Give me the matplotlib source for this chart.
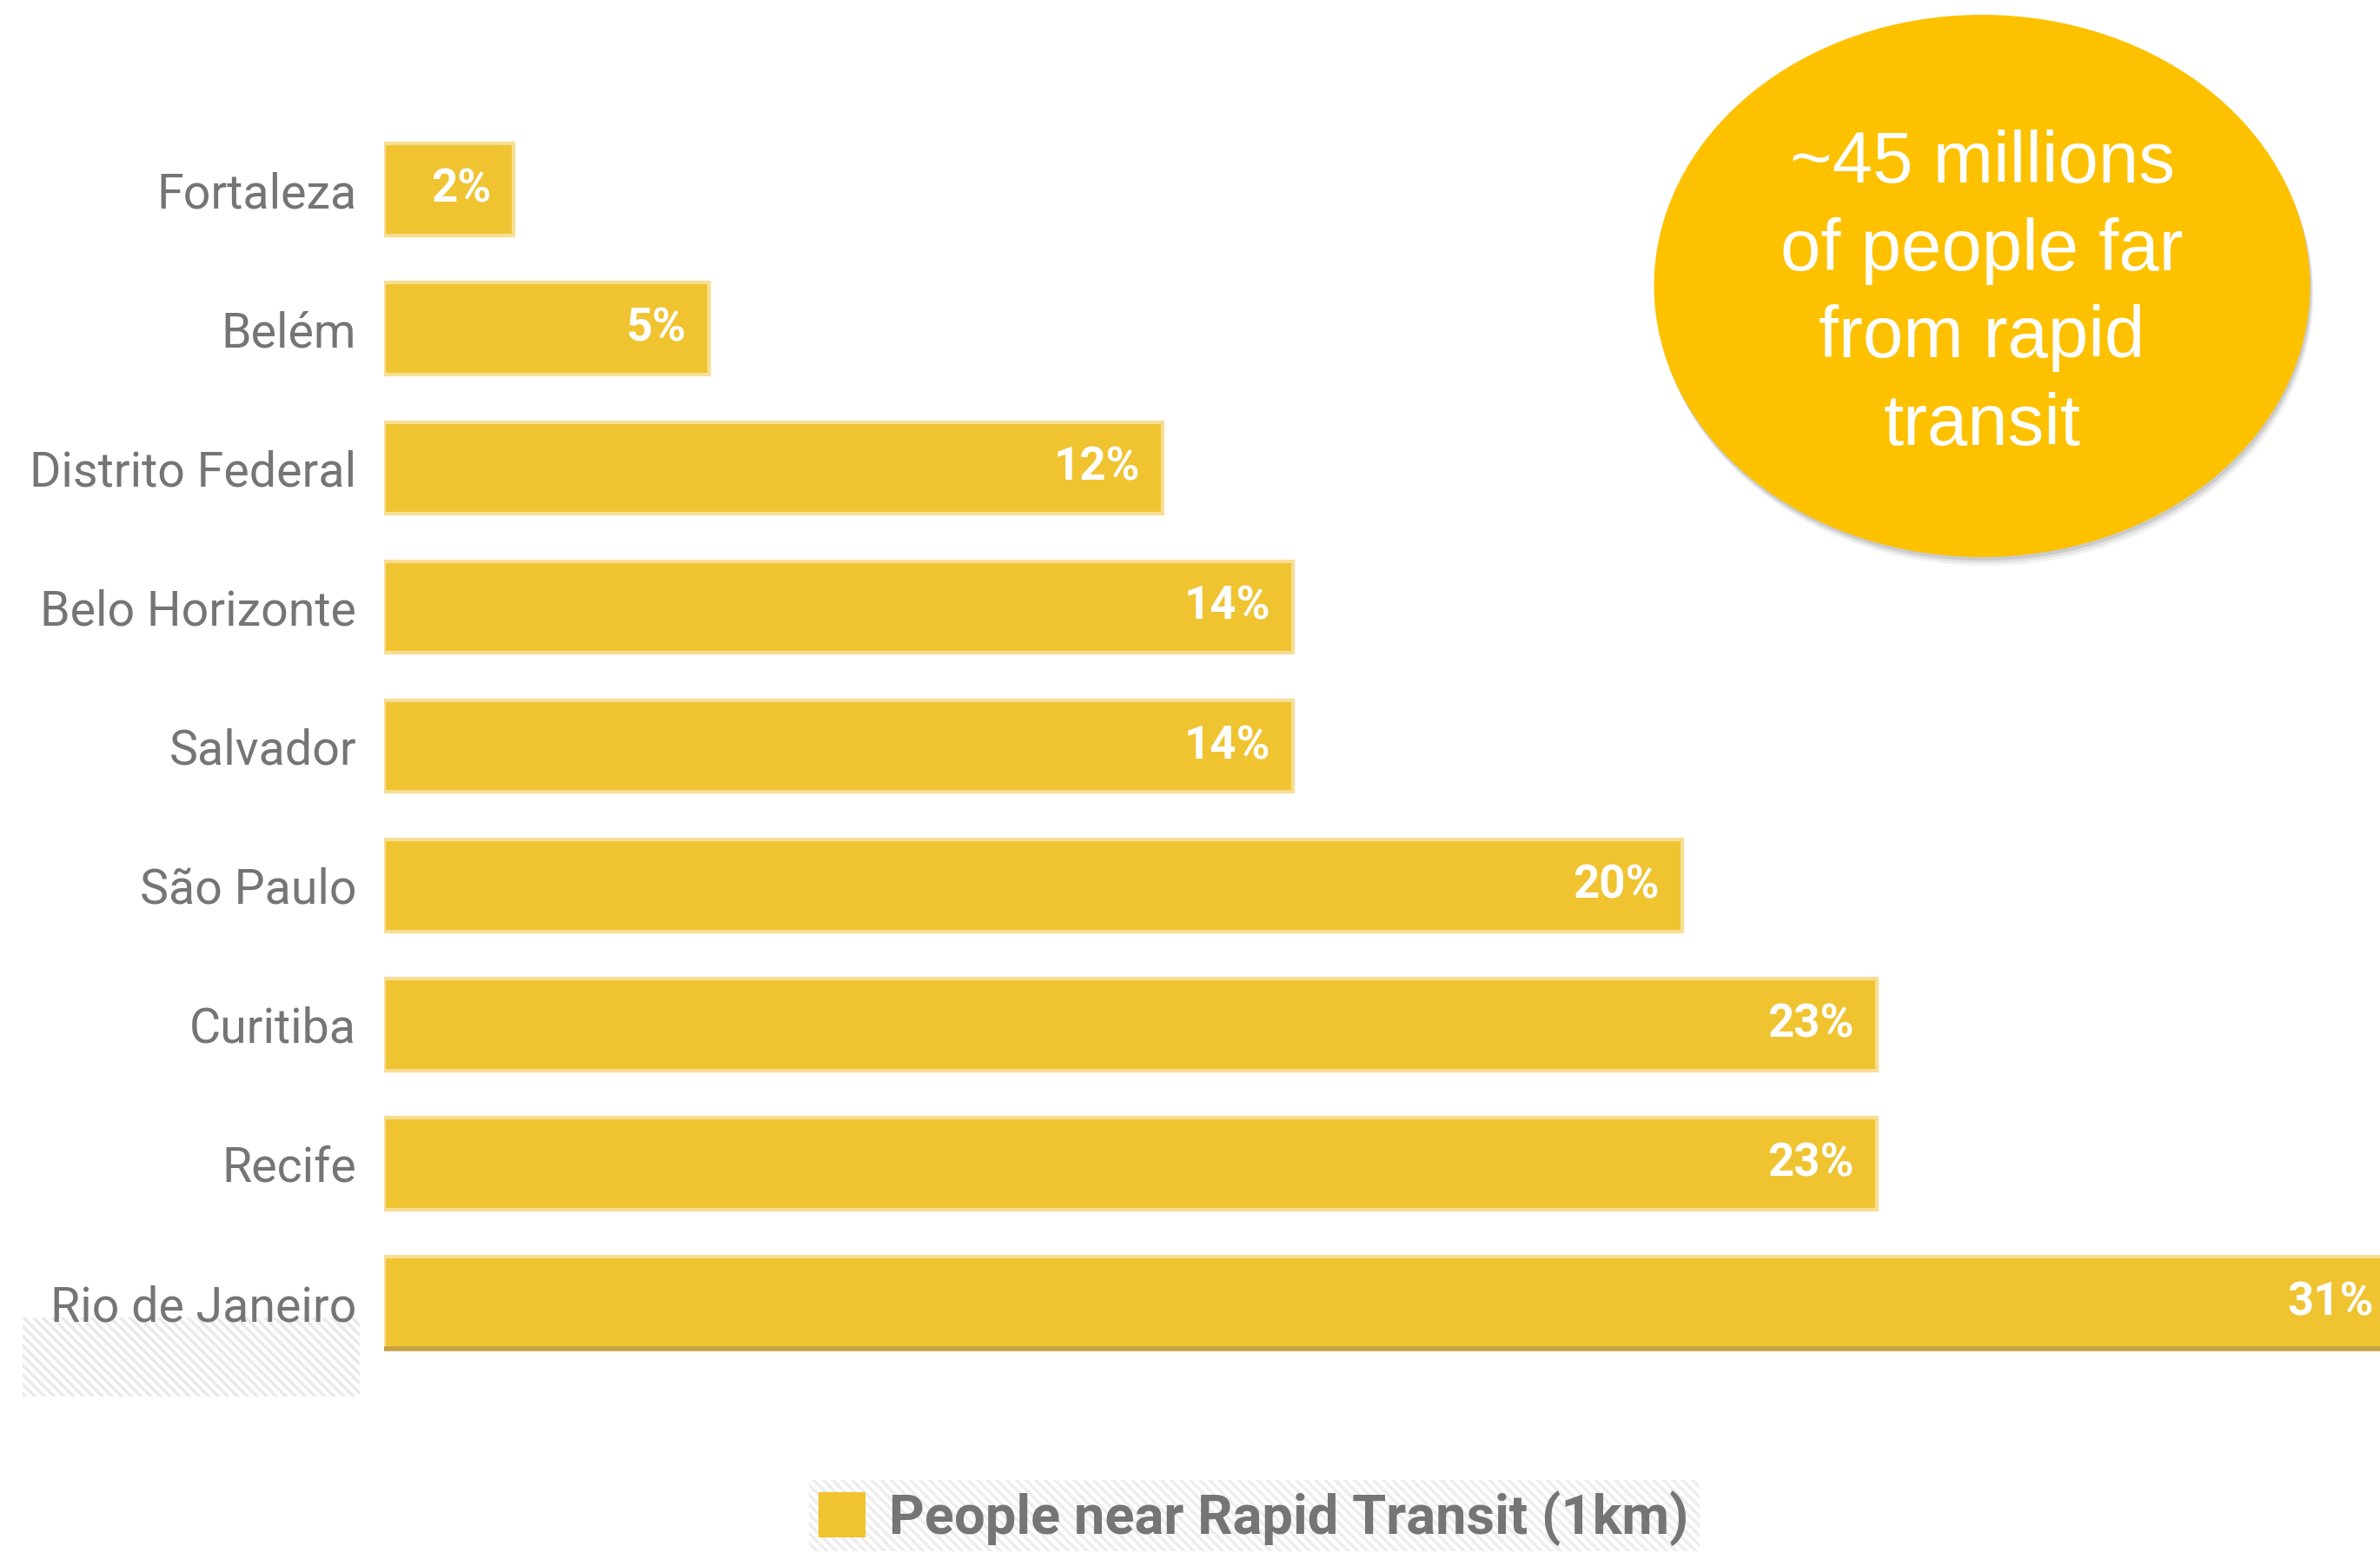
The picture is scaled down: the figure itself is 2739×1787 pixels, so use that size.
import matplotlib.pyplot as plt
from matplotlib.patches import Ellipse, Rectangle

# Data
cities = ['Fortaleza', 'Belém', 'Distrito Federal', 'Belo Horizonte', 'Salvador',
          'São Paulo', 'Curitiba', 'Recife', 'Rio de Janeiro']
share = [2, 5, 12, 14, 14, 20, 23, 23, 31]
series_name = 'People near Rapid Transit (1km)'
callout = '~45 millions\nof people far\nfrom rapid\ntransit'

bar_color = '#F0C331'
edge_light = '#F7DE93'
label_gray = '#757575'

plt.rcParams['hatch.linewidth'] = 2.5

fig = plt.figure(figsize=(27.39, 17.87), dpi=100)
ax = fig.add_axes([0.1614, 0.1074, 0.8386, 0.8243])

pos = list(range(len(cities)))
bars = ax.barh(pos, share, height=0.66, color=bar_color, edgecolor=edge_light,
               linewidth=3, label=series_name, zorder=2)

# darker bottom edge on the last bar (as in the screenshot)
last = bars[-1]
ax.plot([0, share[-1]], [last.get_y() + last.get_height()] * 2,
        color='#C4A244', linewidth=4, zorder=3, solid_capstyle='butt')

for y, v in zip(pos, share):
    ax.text(v - 0.35, y, f'{v}%', ha='right', va='center', color='white',
            fontsize=38, fontweight='bold', family='Roboto', zorder=4)

ax.set_xlim(0, 30.75)
ax.set_ylim(8.6, -0.6)
ax.set_yticks(pos)
ax.set_yticklabels(cities, fontsize=40, color=label_gray, family='Roboto')
ax.tick_params(axis='y', length=0, pad=23)
ax.xaxis.set_visible(False)
for s in ax.spines.values():
    s.set_visible(False)

# faint hatched placeholders from the original screenshot
fig.add_artist(Rectangle((26 / 2739, 1 - 1607 / 1787), 388 / 2739, 91 / 1787,
                         transform=fig.transFigure, facecolor='white',
                         edgecolor='#e9e9e9', hatch='\\\\\\', linewidth=0, zorder=0))
fig.add_artist(Rectangle((931 / 2739, 1 - 1785 / 1787), 1025 / 2739, 82 / 1787,
                         transform=fig.transFigure, facecolor='white',
                         edgecolor='#ededed', hatch='\\\\\\', linewidth=0, zorder=0))

# legend
leg = fig.legend(loc='center', bbox_to_anchor=(0.527, 0.0224), frameon=False,
                 prop={'family': 'Roboto', 'size': 45.5, 'weight': 'bold'},
                 handlelength=0.8, handleheight=0.8, handletextpad=0.45)
for t in leg.get_texts():
    t.set_color(label_gray)
for h in leg.legend_handles:
    h.set_edgecolor(bar_color)

# callout bubble with shadow
cx, cy = 2281 / 2739, 1 - 329 / 1787
w, h = 755 / 2739, 624 / 1787
for k, a in [(10, 0.10), (7, 0.15), (4, 0.25)]:
    fig.add_artist(Ellipse((cx + k / 2739 * 0.4, cy - k / 1787), w, h,
                           transform=fig.transFigure, facecolor='#888888',
                           edgecolor='none', alpha=a, zorder=5))
fig.add_artist(Ellipse((cx, cy), w, h, transform=fig.transFigure,
                       facecolor='#FDC100', edgecolor='none', zorder=6))
fig.text(cx, 1 - 339 / 1787, callout, ha='center', va='center', ma='center',
         color='white', fontsize=60, family='Liberation Sans',
         linespacing=1.37, zorder=7)

fig.savefig('out.png', dpi=100)
